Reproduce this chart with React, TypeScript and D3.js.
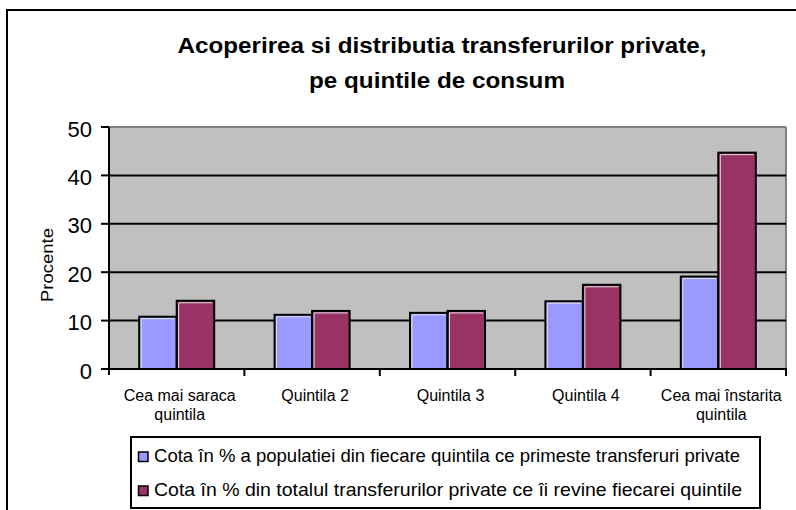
import React from "react";
import * as d3 from "d3";

const categories = [
  ["Cea mai saraca", "quintila"],
  ["Quintila 2"],
  ["Quintila 3"],
  ["Quintila 4"],
  ["Cea mai înstarita", "quintila"],
];
const seriesNames = [
  "Cota în % a populatiei din fiecare quintila ce primeste transferuri private",
  "Cota în % din totalul transferurilor private ce îi revine fiecarei quintile",
];
const populationShare = [10.8, 11.2, 11.6, 14.0, 19.1];
const transferShare = [14.1, 12.0, 12.0, 17.4, 44.7];
const yTicks = [0, 10, 20, 30, 40, 50];
const colors = ["#9999FF", "#993366"];

const W = 796;
const H = 510;
const plot = { left: 109, right: 786, top: 127, bottom: 369 };
const FONT = "'Liberation Sans', Arial, sans-serif";

export default function App() {
  const series = [populationShare, transferShare];
  const idx = categories.map((_, i) => i);
  const x = d3.scaleBand<number>().domain(idx).range([plot.left, plot.right]).paddingInner(0).paddingOuter(0);
  const inner = d3.scaleBand<number>().domain([0, 1]).range([0, x.bandwidth()]).paddingInner(0).paddingOuter(0.805);
  const y = d3.scaleLinear().domain([0, 50]).range([plot.bottom, plot.top]);
  const boundaries = d3.range(categories.length + 1).map((i) => plot.left + i * x.step());

  return (
    <div style={{ position: "fixed", left: 0, top: 0, width: W, height: H, background: "#fff" }}>
      <svg width={W} height={H} style={{ display: "block", fontFamily: FONT }}>
        <rect x={0} y={0} width={W} height={H} fill="#fff" />
        {/* outer chart frame */}
        <rect x={7} y={10} width={W + 20} height={H + 20} fill="none" stroke="#000" strokeWidth={2} />

        {/* title */}
        <text x={442} y={53} textAnchor="middle" fontSize={22} fontWeight="bold" textLength={529} lengthAdjust="spacingAndGlyphs">
          Acoperirea si distributia transferurilor private,
        </text>
        <text x={437} y={88} textAnchor="middle" fontSize={22} fontWeight="bold" textLength={256} lengthAdjust="spacingAndGlyphs">
          pe quintile de consum
        </text>

        {/* plot area */}
        <rect x={plot.left} y={plot.top} width={plot.right - plot.left} height={plot.bottom - plot.top} fill="#C0C0C0" />
        <line x1={plot.left} x2={plot.right} y1={plot.top} y2={plot.top} stroke="#808080" strokeWidth={2} />
        <line x1={plot.right} x2={plot.right} y1={plot.top} y2={plot.bottom} stroke="#808080" strokeWidth={2} />
        {yTicks.filter((t) => t > 0 && t < 50).map((t) => (
          <line key={t} x1={plot.left} x2={plot.right} y1={y(t)} y2={y(t)} stroke="#000" strokeWidth={2} />
        ))}

        {/* bars */}
        {series.map((vals, s) =>
          vals.map((v, i) => {
            const bx = (x(i) as number) + (inner(s) as number);
            const bw = inner.bandwidth();
            const by = y(v);
            const bh = plot.bottom - by;
            return (
              <g key={`${s}-${i}`}>
                <rect x={bx} y={by} width={bw} height={bh} fill={colors[s]} stroke="#000" strokeWidth={2} />
                <polyline
                  points={`${bx + 2},${plot.bottom} ${bx + 2},${by + 2} ${bx + bw - 2},${by + 2}`}
                  fill="none"
                  stroke="#E0E0E0"
                  strokeWidth={1}
                />
              </g>
            );
          })
        )}

        {/* axes */}
        <line x1={plot.left} x2={plot.left} y1={plot.top} y2={plot.bottom + 6} stroke="#000" strokeWidth={2} />
        <line x1={plot.left} x2={plot.right + 1} y1={plot.bottom} y2={plot.bottom} stroke="#000" strokeWidth={2} />
        {boundaries.slice(1).map((bx, i) => (
          <line key={i} x1={bx} x2={bx} y1={plot.bottom} y2={plot.bottom + 7} stroke="#000" strokeWidth={2} />
        ))}
        {yTicks.map((t) => (
          <g key={t}>
            <line x1={101} x2={plot.left} y1={y(t)} y2={y(t)} stroke="#000" strokeWidth={2} />
            <text x={92} y={y(t) + 9.5} textAnchor="end" fontSize={22}>
              {t}
            </text>
          </g>
        ))}
        <text
          transform={`translate(53,265) rotate(-90)`}
          textAnchor="middle"
          fontSize={17}
          textLength={74}
          lengthAdjust="spacingAndGlyphs"
        >
          Procente
        </text>

        {/* category labels */}
        {categories.map((lines, i) => (
          <text key={i} x={(x(i) as number) + x.bandwidth() / 2 + 3} textAnchor="middle" fontSize={16}>
            {lines.map((ln, k) => (
              <tspan key={k} x={(x(i) as number) + x.bandwidth() / 2 + 3} y={401 + k * 19}>
                {ln}
              </tspan>
            ))}
          </text>
        ))}

        {/* legend */}
        <rect x={131} y={437} width={629} height={71} fill="#fff" stroke="#000" strokeWidth={2} />
        {seriesNames.map((name, s) => (
          <g key={s}>
            <rect x={138.5} y={452 + s * 34} width={9.5} height={9.5} fill={colors[s]} stroke="#000" strokeWidth={1.5} />
            <text x={154} y={462 + s * 33.5} fontSize={18.5} textLength={s === 0 ? 586 : 588} lengthAdjust="spacingAndGlyphs">
              {name}
            </text>
          </g>
        ))}
      </svg>
    </div>
  );
}
